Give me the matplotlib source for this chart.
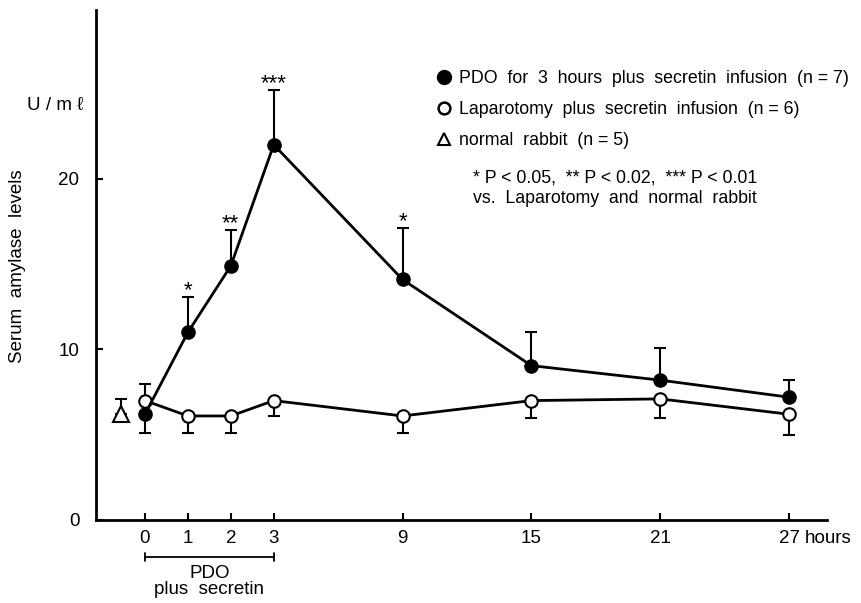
import numpy as np
import matplotlib
matplotlib.use("Agg")
import matplotlib.pyplot as plt
from matplotlib.lines import Line2D

plt.rcParams['font.family'] = ['Liberation Sans', 'DejaVu Sans']

# ---- data ----
hours = [0, 1, 2, 3, 9, 15, 21, 27]
tick_labels = ["0", "1", "2", "3", "9", "15", "21", "27"]

pdo_mean = [6.2, 11.0, 14.9, 22.0, 14.1, 9.05, 8.2, 7.2]
pdo_err_up = [0.0, 2.1, 2.1, 3.2, 3.0, 2.0, 1.9, 1.0]
pdo_err_down = [1.1, 0.0, 0.0, 0.0, 0.0, 0.0, 0.0, 0.0]
pdo_stars = ["", "*", "**", "***", "*", "", "", ""]

lap_mean = [7.0, 6.1, 6.1, 7.0, 6.1, 7.0, 7.1, 6.2]
lap_err_up = [1.0, 0.0, 0.0, 0.0, 0.0, 0.0, 0.0, 0.0]
lap_err_down = [0.0, 1.0, 1.0, 0.9, 1.0, 1.0, 1.1, 1.2]

normal_mean = [6.2]
normal_err_up = [0.9]
normal_x = [-0.56]   # drawn left of time 0

legend_labels = ["PDO  for  3  hours  plus  secretin  infusion  (n = 7)",
                 "Laparotomy  plus  secretin  infusion  (n = 6)",
                 "normal  rabbit  (n = 5)"]

# ---- figure ----
fig = plt.figure(figsize=(8.62, 6.03), dpi=100)
ax = fig.add_axes([96/862, 1-520/603, (827-96)/862, (520-10)/603])


def fwd(t):
    t = np.asarray(t, dtype=float)
    return np.where(t <= 3, 2*t, t + 3)


def inv(u):
    u = np.asarray(u, dtype=float)
    return np.where(u <= 6, u/2, u - 3)


ax.set_xscale('function', functions=(fwd, inv))
ax.set_xlim(-1.14, 28.77)
ax.set_ylim(0, 29.9)

lw = 2.0
# laparotomy (open)
ax.errorbar(hours, lap_mean, yerr=[lap_err_down, lap_err_up], fmt='none',
            ecolor='black', elinewidth=1.5, capsize=4.5, capthick=1.5, zorder=2)
ax.plot(hours, lap_mean, '-', color='black', lw=lw, marker='o', ms=9,
        mfc='white', mec='black', mew=1.5, zorder=4)
# PDO (filled)
ax.errorbar(hours, pdo_mean, yerr=[pdo_err_down, pdo_err_up], fmt='none',
            ecolor='black', elinewidth=1.5, capsize=4.5, capthick=1.5, zorder=2)
ax.plot(hours, pdo_mean, '-', color='black', lw=lw, marker='o', ms=9.5,
        mfc='black', mec='black', zorder=5)
# normal rabbit
ax.errorbar(normal_x, normal_mean, yerr=[[0], normal_err_up], fmt='none',
            ecolor='black', elinewidth=1.5, capsize=4.5, capthick=1.5, zorder=2)
ax.plot(normal_x, normal_mean, linestyle='none', marker='^', ms=11,
        mfc='white', mec='black', mew=1.5, zorder=4)

# significance stars
for h, m, e, s in zip(hours, pdo_mean, pdo_err_up, pdo_stars):
    if s:
        ax.annotate(s, (h, m + e), xytext=(0, -3), textcoords='offset points',
                    ha='center', va='bottom', fontsize=16)

# axes styling
for side in ['top', 'right']:
    ax.spines[side].set_visible(False)
for side in ['left', 'bottom']:
    ax.spines[side].set_linewidth(2)
ax.set_xticks(hours)
ax.set_xticklabels(tick_labels)
ax.set_yticks([0, 10, 20])
ax.tick_params(direction='in', length=5, width=1.5, labelsize=13.5)
ax.tick_params(axis='y', pad=12)
ax.tick_params(axis='x', pad=7)
ax.annotate("hours", (27, 0), xytext=(11, -7), textcoords='offset points',
            xycoords=('data', 'data'), ha='left', va='top', fontsize=13.5,
            annotation_clip=False)

# y label and units
fig.text(18/862, 1-266/603, "Serum  amylase  levels", rotation=90,
         ha='center', va='center', fontsize=13.5)
fig.text(55/862, 1-106/603, "U / m ℓ", ha='center', va='center', fontsize=13.5)

# PDO bracket under axis
bracket_y = -(557 - 520) / 510
ax.annotate("", xy=(0, bracket_y), xytext=(3, bracket_y),
            xycoords=('data', 'axes fraction'),
            textcoords=('data', 'axes fraction'), annotation_clip=False,
            arrowprops=dict(arrowstyle='|-|, widthA=0.3, widthB=0.3',
                            lw=1.3, color='black', shrinkA=0, shrinkB=0))
ax.text(1.5, -(573 - 520) / 510, "PDO", transform=ax.get_xaxis_transform(),
        ha='center', va='center', fontsize=13.5, clip_on=False)
ax.text(1.5, -(590 - 520) / 510, "plus  secretin", transform=ax.get_xaxis_transform(),
        ha='center', va='center', fontsize=13.5, clip_on=False)

# legend
handles = [Line2D([], [], ls='none', marker='o', ms=10, mfc='black', mec='black'),
           Line2D([], [], ls='none', marker='o', ms=8.5, mfc='white', mec='black', mew=1.8),
           Line2D([], [], ls='none', marker='^', ms=8, mfc='white', mec='black', mew=1.5)]
leg = ax.legend(handles, legend_labels, loc='upper left',
                bbox_to_anchor=(437/862, 1-70/603), bbox_transform=fig.transFigure,
                frameon=False, fontsize=12.8, handlelength=0.8, handletextpad=0.45,
                labelspacing=0.8, borderpad=0, borderaxespad=0)

fig.text(473/862, 1-178/603, "* P < 0.05,  ** P < 0.02,  *** P < 0.01",
         ha='left', va='center', fontsize=12.8)
fig.text(473/862, 1-199/603, "vs.  Laparotomy  and  normal  rabbit",
         ha='left', va='center', fontsize=12.8)

fig.savefig("out.png", dpi=100)
